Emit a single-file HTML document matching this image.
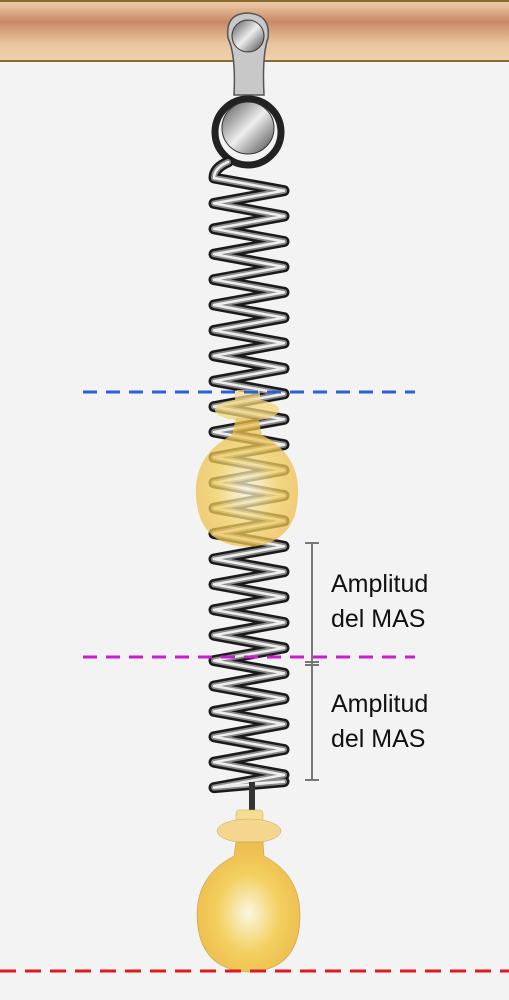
<!DOCTYPE html>
<html><head><meta charset="utf-8"><style>
html,body{margin:0;padding:0;background:#f3f3f3;}
svg{display:block}
text{font-family:"Liberation Sans",sans-serif;font-size:25px;fill:#111}
</style></head><body>
<svg width="509" height="1000" viewBox="0 0 509 1000">
<defs>
<linearGradient id="wood" x1="0" y1="0" x2="0" y2="1">
<stop offset="0" stop-color="#f1d2b0"/><stop offset="0.35" stop-color="#c98a66"/><stop offset="0.7" stop-color="#e9c49e"/><stop offset="1" stop-color="#f0d3b2"/></linearGradient>
<radialGradient id="gold" cx="0.5" cy="0.55" r="0.6">
<stop offset="0" stop-color="#fbf6e0"/><stop offset="0.5" stop-color="#f3d060"/><stop offset="1" stop-color="#ecb848"/></radialGradient>
<linearGradient id="metal" x1="0" y1="0" x2="1" y2="1">
<stop offset="0" stop-color="#555"/><stop offset="0.5" stop-color="#eee"/><stop offset="1" stop-color="#444"/></linearGradient>
</defs>
<rect x="0" y="0" width="509" height="62" fill="url(#wood)"/>
<rect x="0" y="0" width="509" height="2" fill="#8a6a30"/>
<rect x="0" y="60" width="509" height="2" fill="#8a6a30"/>
<g>
<path d="M228 38 Q225 14 247 13 Q271 14 268 38 Q262 55 264 95 L234 95 Q236 55 228 38Z" fill="#c8c8c8" stroke="#555" stroke-width="1.5"/>
<circle cx="248" cy="36" r="16" fill="url(#metal)" stroke="#333"/>
<circle cx="248" cy="132" r="33" fill="none" stroke="#222" stroke-width="7"/>
<circle cx="248" cy="128" r="26" fill="url(#metal)" stroke="#333"/>
</g>
<g id="spring"></g>
<path d="M252 782 L252 810" stroke="#333" stroke-width="6" fill="none"/>
<g opacity="0.75">
<rect x="235" y="390" width="25" height="12" rx="3" fill="#f5dd90"/>
<ellipse cx="247" cy="410" rx="32" ry="11" fill="#f3d67a"/>
<path d="M236 418 L258 418 L262 435 Q300 455 298 495 Q296 545 247 547 Q198 545 196 495 Q194 455 232 435Z" fill="url(#gold)"/>
</g>
<g>
<rect x="236" y="810" width="27" height="14" rx="3" fill="#f5dd90" stroke="#c9a860" stroke-width="0.5"/>
<ellipse cx="249" cy="831" rx="32" ry="12" fill="#f5d68e" stroke="#c9a860" stroke-width="0.5"/>
<path d="M236 842 L263 842 L264 856 Q300 875 300 915 Q300 970 249 972 Q198 970 197 915 Q197 875 234 856Z" fill="url(#gold)" stroke="#c9a860" stroke-width="0.7"/>
</g>
<line x1="83" y1="392" x2="415" y2="392" stroke="#2a5fd8" stroke-width="3" stroke-dasharray="14,9"/>
<line x1="83" y1="657" x2="415" y2="657" stroke="#c81ed0" stroke-width="3" stroke-dasharray="14,9"/>
<line x1="0" y1="971" x2="509" y2="971" stroke="#e0191e" stroke-width="3" stroke-dasharray="16,9"/>
<g stroke="#777" stroke-width="2">
<line x1="312" y1="543" x2="312" y2="780"/>
<line x1="305" y1="543" x2="319" y2="543"/>
<line x1="305" y1="662" x2="319" y2="662"/>
<line x1="305" y1="665" x2="319" y2="665"/>
<line x1="305" y1="780" x2="319" y2="780"/>
</g>
<text x="331" y="592">Amplitud</text>
<text x="331" y="627">del MAS</text>
<text x="331" y="712">Amplitud</text>
<text x="331" y="747">del MAS</text>
</svg>
<script>
(function(){
var g=document.getElementById('spring');
var ns='http://www.w3.org/2000/svg';
var y0=178, pitch=25.4, n=24, L=214, R=284;
var d='M228 162 Q214 168 '+L+' '+y0;
for(var i=0;i<n;i++){
 var y=y0+i*pitch;
 d+=' L'+R+' '+(y+pitch/2);
 d+=' L'+L+' '+(y+pitch);
}
d+=' L'+R+' '+(y0+n*pitch-6)+' L252 '+(y0+n*pitch-4);
[[11,'#1a1a1a'],[6,'#8a8a8a'],[2.5,'#eeeeee']].forEach(function(s){
 var p=document.createElementNS(ns,'path');
 p.setAttribute('d',d);p.setAttribute('fill','none');p.setAttribute('stroke',s[1]);p.setAttribute('stroke-width',s[0]);p.setAttribute('stroke-linejoin','round');p.setAttribute('stroke-linecap','round');
 
 
 g.appendChild(p);
});
})();
</script>
</body></html>
